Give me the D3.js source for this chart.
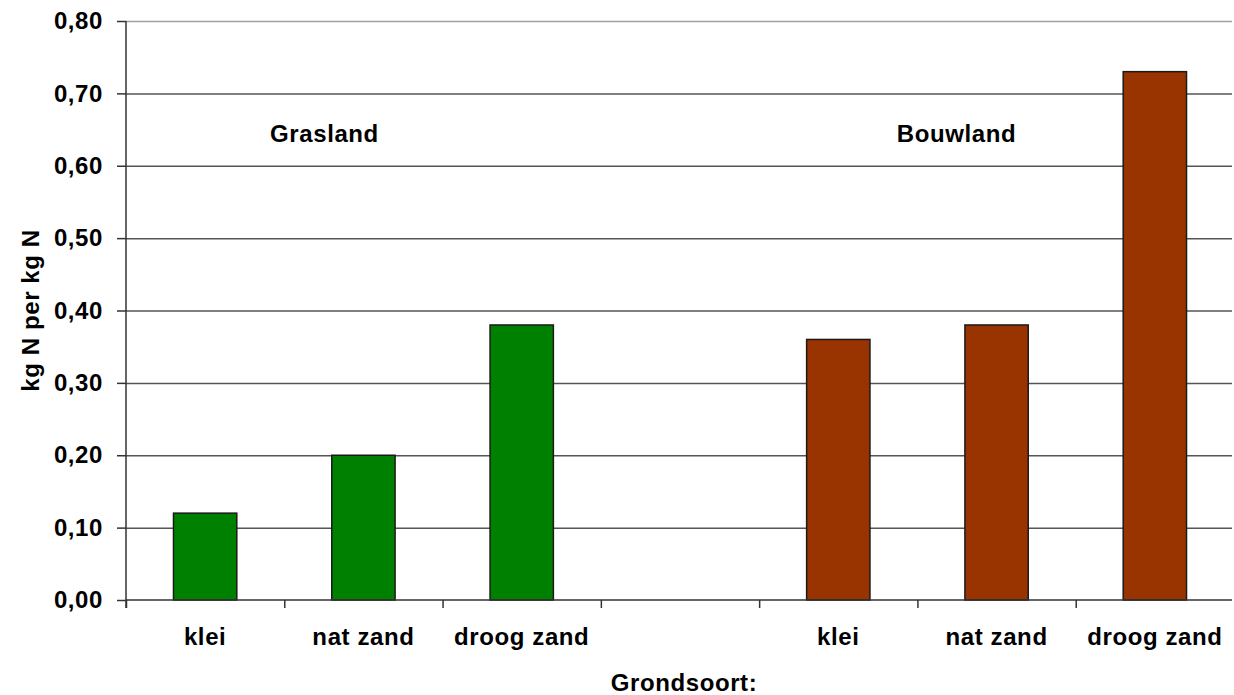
<!DOCTYPE html>
<html>
<head>
<meta charset="utf-8">
<script src="https://cdn.jsdelivr.net/npm/d3@7"></script>
<style>
  body { margin: 0; background: #fff; }
  svg text { font-family: "Liberation Sans", Arial, sans-serif; font-weight: bold; fill: #000; letter-spacing: 0.6px; }
</style>
</head>
<body>
<svg id="chart"></svg>
<script>
const categories = ["klei", "nat zand", "droog zand", "", "klei", "nat zand", "droog zand"];
const grasland = [0.12, 0.20, 0.38];
const bouwland = [0.36, 0.38, 0.73];
const yTicks = [0, 0.1, 0.2, 0.3, 0.4, 0.5, 0.6, 0.7, 0.8];
const groupLabels = [
  { name: "Grasland", pos: 0.91, value: 0.645 },
  { name: "Bouwland", pos: 4.87, value: 0.645 }
];

const margin = { top: 21, right: 0, bottom: 95, left: 126 };
const width = 1234;
const height = 695;

const svg = d3.select("#chart")
    .attr("width", width)
    .attr("height", height);

// bars: grasland in first three slots, bouwland in the last three
const bars = grasland.map((v, i) => ({ idx: i, value: v, color: "#008000" }))
    .concat(bouwland.map((v, i) => ({ idx: i + 4, value: v, color: "#993300" })));

const x = d3.scaleBand()
    .domain(d3.range(categories.length))
    .range([margin.left, width - margin.right])
    .padding(0);

const xEdge = d3.scaleLinear()
    .domain([0, categories.length])
    .range([margin.left, width - margin.right]);

const y = d3.scaleLinear()
    .domain([0, 0.8])
    .range([height - margin.bottom, margin.top]);

const fmt = d => d3.format(".2f")(d).replace(".", ",");

// gridlines
svg.append("g")
    .selectAll("line")
    .data(yTicks.slice(1))
    .enter()
    .append("line")
    .attr("x1", margin.left)
    .attr("x2", width - margin.right - 2)
    .attr("y1", d => y(d) + 0.5)
    .attr("y2", d => y(d) + 0.5)
    .attr("stroke", d => d === 0.8 ? "#a0a0a0" : "#555")
    .attr("stroke-width", 1.5);

// bars
svg.append("g")
    .selectAll("rect")
    .data(bars)
    .enter()
    .append("rect")
    .attr("x", d => x(d.idx) + x.bandwidth() * 0.3)
    .attr("width", x.bandwidth() * 0.4)
    .attr("y", d => y(d.value))
    .attr("height", d => y(0) - y(d.value))
    .attr("fill", d => d.color)
    .attr("stroke", "#1a1a1a")
    .attr("stroke-width", 1.5);

// y axis
const yAxis = svg.append("g")
    .attr("transform", `translate(${margin.left},0)`)
    .call(d3.axisLeft(y).tickValues(yTicks).tickFormat(fmt).tickSize(9).tickPadding(14));
yAxis.select(".domain").attr("stroke", "#333").attr("stroke-width", 1.5)
    .attr("d", `M0,${y(0.8)}V${y(0) + 8}`);
yAxis.selectAll(".tick line").attr("stroke", "#333").attr("stroke-width", 1.5);
yAxis.selectAll("text").style("font-size", "24px");

// x axis: tick marks at band edges
const xAxis = svg.append("g")
    .attr("transform", `translate(0,${y(0)})`)
    .call(d3.axisBottom(xEdge).tickValues(d3.range(categories.length)).tickFormat("").tickSize(8).tickSizeOuter(0));
xAxis.select(".domain").attr("stroke", "#333").attr("stroke-width", 1.5)
    .attr("d", `M${margin.left},0H${width - margin.right - 2}`);
xAxis.selectAll(".tick line").attr("stroke", "#333").attr("stroke-width", 1.5);

// category labels
const xLab = svg.append("g")
    .attr("transform", `translate(0,${y(0)})`)
    .call(d3.axisBottom(x).tickFormat(i => categories[i]).tickSize(0).tickPadding(28));
xLab.select(".domain").remove();
xLab.selectAll("text").style("font-size", "24px");

// group annotations
svg.append("g")
    .selectAll("text")
    .data(groupLabels)
    .enter()
    .append("text")
    .attr("x", d => xEdge(d.pos))
    .attr("y", d => y(d.value))
    .attr("dy", "0.35em")
    .style("font-size", "24px")
    .text(d => d.name);

// axis titles
svg.append("text")
    .attr("x", 684)
    .attr("y", 683)
    .attr("dy", "0.35em")
    .attr("text-anchor", "middle")
    .style("font-size", "24px")
    .text("Grondsoort:");

svg.append("text")
    .attr("transform", `translate(31,${y(0.4)}) rotate(-90)`)
    .attr("dy", "0.35em")
    .attr("text-anchor", "middle")
    .style("font-size", "24px")
    .text("kg N per kg N");
</script>
</body>
</html>
